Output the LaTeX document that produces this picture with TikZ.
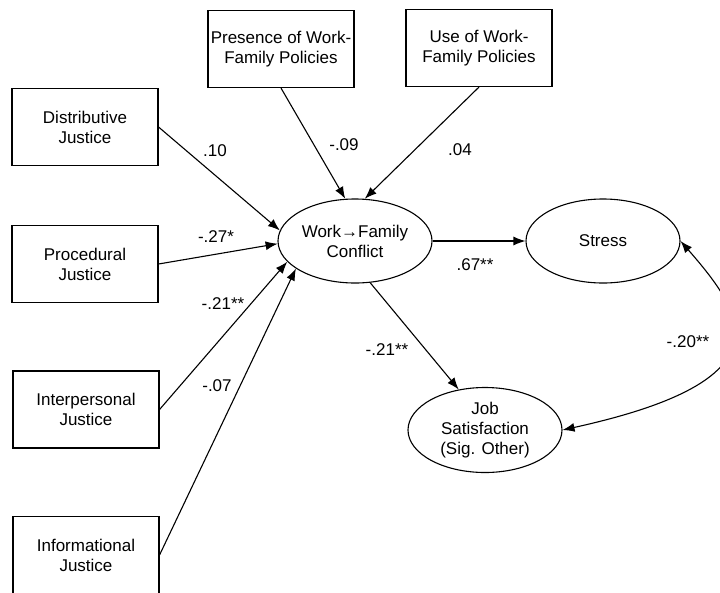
\documentclass[tikz,border=0pt]{standalone}
\usepackage{fontspec}
\setmainfont{Liberation Sans}
\usetikzlibrary{shapes.geometric,arrows.meta}
\tikzset{
	box/.style={draw, line width=1.1pt, minimum width=146pt, minimum height=77pt, inner sep=0pt, align=center},
	oval/.style={draw, ellipse, line width=1.1pt, minimum width=154pt, minimum height=84pt, inner sep=0pt, align=center},
	link/.style={line width=1.1pt, -{Latex[length=12pt,width=9pt]}},
	twolink/.style={line width=1.1pt, {Latex[length=12pt,width=9pt]}-{Latex[length=12pt,width=9pt]}},
	coef/.style={inner sep=0pt}
}

\begin{document}
\begin{tikzpicture}[x=1pt, y=-1pt, font=\fontsize{17}{20}\selectfont]
			%%%%% START %%%%%
			\useasboundingbox (0,0) rectangle (720,592);
			
			\node[box] (dist) at (85, 127) {Distributive\\Justice};
			\node[box] (proc) at (85, 264) {Procedural\\Justice};
			\node[box] (inter) at (86, 409.5) {Interpersonal\\Justice};
			\node[box] (info) at (86, 555) {Informational\\Justice};
			
			\node[box] (pres) at (281, 49) {Presence of Work-\\Family Policies};
			\node[box] (use) at (479, 48) {Use of Work-\\Family Policies};
			
			\node[oval] (wfc) at (355, 241) {Work→Family\\Conflict};
			\node[oval] (stress) at (603, 241) {Stress};
			\node[oval, minimum height=85pt] (job) at (485, 430) {Job\\Satisfaction\\(Sig. Other)};
			
			\draw[link] (dist.east) -- (wfc.172);
			\draw[link] (proc.east) -- (wfc.182);
			\draw[link] (inter.east) -- (wfc.197);
			\draw[link] (info.east) -- (wfc.205);
			\draw[link] (pres.south) -- (wfc.103);
			\draw[link] (use.south) -- (wfc.77);
			\draw[link] (wfc.east) -- (stress.west);
			\draw[link] (wfc.290) -- (job.123);
			\draw[twolink] (stress.east) .. controls (745,315) and (790,380) .. (job.east);
			
			\node[coef] (c1) at (215, 151) {.10};
			\node[coef] (c2) at (216, 237) {-.27*};
			\node[coef] (c3) at (223, 304) {-.21**};
			\node[coef] (c4) at (217, 386) {-.07};
			\node[coef] (c5) at (344, 145) {-.09};
			\node[coef] (c6) at (460, 150) {.04};
			\node[coef] (c7) at (475, 265) {.67**};
			\node[coef] (c8) at (387, 350) {-.21**};
			\node[coef] (c9) at (688, 342) {-.20**};
			
			%%%%% END %%%%%
\end{tikzpicture}
\end{document}
